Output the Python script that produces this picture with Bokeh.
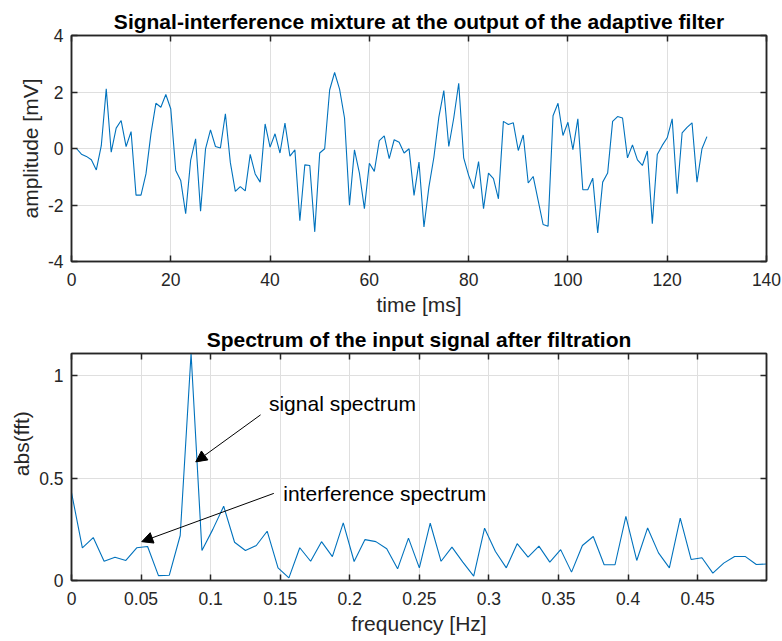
from bokeh.plotting import figure
from bokeh.layouts import column
from bokeh.models import (LinearAxis, FixedTicker, CustomJSTickFormatter, Range1d,
                          Arrow, NormalHead, Label)
from bokeh.embed import file_html
from bokeh.resources import INLINE

# ---------------- data ----------------
time_ms = list(range(129))
amplitude = [0.0, 0.0, -0.2, -0.28, -0.4, -0.76, 0.1, 2.11, -0.13, 0.72,
             0.99, 0.07, 0.6, -1.65, -1.65, -0.9, 0.52, 1.6, 1.46, 1.91,
             1.4, -0.78, -1.13, -2.31, -0.42, 0.34, -2.22, -0.01, 0.66, 0.07,
             0.02, 1.23, -0.5, -1.52, -1.35, -1.5, -0.21, -0.9, -1.19, 0.87,
             0.05, 0.52, -0.16, 0.9, -0.27, -0.05, -2.56, -0.58, -0.6, -2.95,
             -0.16, -0.01, 2.07, 2.69, 2.1, 1.08, -2.01, -0.05, -0.87, -2.13,
             -0.52, -0.81, 0.28, 0.45, -0.36, 0.31, 0.22, -0.16, -0.01, -1.66,
             -0.48, -2.78, -1.36, -0.31, 1.11, 2.05, 0.07, 1.08, 2.31, -0.33,
             -0.95, -1.42, -0.46, -2.13, -0.87, -1.07, -1.78, 0.96, 0.85, 0.91,
             -0.07, 0.48, -1.22, -0.99, -1.84, -2.69, -2.75, 1.16, 1.6, 0.46,
             0.93, -0.04, 1.05, -1.46, -1.46, -1.05, -2.99, -1.19, -0.87, 0.96,
             1.13, 1.08, -0.33, 0.13, -0.4, -0.6, -0.09, -2.66, -0.21, 0.11,
             0.38, 1.05, -1.6, 0.55, 0.75, 0.91, -1.19, -0.01, 0.42]

freq_hz = [k / 128 for k in range(65)]
abs_fft = [0.43, 0.16, 0.21, 0.094, 0.114, 0.098, 0.16, 0.166, 0.024, 0.026,
           0.22, 1.11, 0.147, 0.25, 0.363, 0.187, 0.147, 0.171, 0.241, 0.062,
           0.013, 0.16, 0.094, 0.19, 0.117, 0.282, 0.093, 0.2, 0.19, 0.155,
           0.057, 0.207, 0.062, 0.28, 0.094, 0.163, 0.09, 0.021, 0.256, 0.142,
           0.062, 0.18, 0.114, 0.168, 0.09, 0.151, 0.041, 0.171, 0.215, 0.077,
           0.077, 0.313, 0.098, 0.257, 0.135, 0.062, 0.305, 0.103, 0.111, 0.036,
           0.085, 0.117, 0.117, 0.078, 0.081]

top_xticks = [0, 20, 40, 60, 80, 100, 120, 140]
top_yticks = [-4, -2, 0, 2, 4]
bot_xticks = [0, 0.05, 0.1, 0.15, 0.2, 0.25, 0.3, 0.35, 0.4, 0.45]
bot_yticks = [0, 0.5, 1]

title_top = "Signal-interference mixture at the output of the adaptive filter"
title_bot = "Spectrum of the input signal after filtration"
xlabel_top = "time [ms]"
ylabel_top = "amplitude [mV]"
xlabel_bot = "frequency [Hz]"
ylabel_bot = "abs(fft)"

sig_label = "signal spectrum"
sig_arrow = (0.1359, 0.810, 0.0893, 0.580)
sig_text = (0.1419, 0.865)
int_label = "interference spectrum"
int_arrow = (0.1454, 0.426, 0.0505, 0.190)
int_text = (0.1522, 0.423)

# ---------------- style ----------------
FONT = "Liberation Sans"
AX = "#262626"
LINE = "#0072BD"
TICK_FS = "17.5px"
LABEL_FS = "21px"
TITLE_FS = "21px"

fmt = CustomJSTickFormatter(code="return Number(tick.toFixed(2)).toString();")
blank = CustomJSTickFormatter(code="return '';")


def style(p, xt, yt, xlabel, ylabel, title_standoff):
    p.title.text_font = FONT
    p.title.text_font_size = TITLE_FS
    p.title.text_font_style = "bold"
    p.title.text_color = "black"
    p.title.align = "center"
    p.title.standoff = title_standoff
    p.outline_line_color = AX
    p.outline_line_width = 1.5
    p.grid.grid_line_color = "#dfdfdf"
    p.grid.grid_line_width = 1
    p.xgrid.ticker = FixedTicker(ticks=xt)
    p.ygrid.ticker = FixedTicker(ticks=yt)
    for ax, t in ((p.xaxis[0], xt), (p.yaxis[0], yt)):
        ax.ticker = FixedTicker(ticks=t)
        ax.formatter = fmt
        ax.major_label_text_font = FONT
        ax.major_label_text_font_size = TICK_FS
        ax.major_label_text_color = AX
        ax.axis_label_text_font = FONT
        ax.axis_label_text_font_size = LABEL_FS
        ax.axis_label_text_font_style = "normal"
        ax.axis_label_text_color = AX
        ax.major_tick_in = 6
        ax.major_tick_out = 0
        ax.major_tick_line_color = AX
        ax.major_tick_line_width = 1.5
        ax.minor_tick_line_color = None
        ax.axis_line_color = AX
        ax.axis_line_width = 1.5
    p.xaxis[0].axis_label = xlabel
    p.yaxis[0].axis_label = ylabel
    p.xaxis[0].major_label_standoff = 11
    p.yaxis[0].major_label_standoff = 8
    p.xaxis[0].axis_label_standoff = 4
    p.yaxis[0].axis_label_standoff = 3
    for loc, t in (("above", xt), ("right", yt)):
        a = LinearAxis(ticker=FixedTicker(ticks=t), formatter=blank,
                       major_label_standoff=0, major_tick_in=6, major_tick_out=0,
                       major_tick_line_color=AX, major_tick_line_width=1.5,
                       minor_tick_line_color=None, axis_line_color=AX,
                       axis_line_width=1.5)
        p.add_layout(a, loc)


p1 = figure(width=782, height=322, output_backend="svg", toolbar_location=None,
            x_range=Range1d(0, 140), y_range=Range1d(-4, 4), title=title_top,
            min_border_left=71, min_border_right=16, min_border_top=35,
            min_border_bottom=61)
style(p1, top_xticks, top_yticks, xlabel_top, ylabel_top, 6)
p1.line(time_ms, amplitude, line_color=LINE, line_width=1.1)

p2 = figure(width=782, height=319, output_backend="svg", toolbar_location=None,
            x_range=Range1d(0, 0.4995), y_range=Range1d(0, 1.11), title=title_bot,
            min_border_left=71, min_border_right=16, min_border_top=31,
            min_border_bottom=61)
# leading no-break spaces lift the rotated label above the axis centre, as in the reference
style(p2, bot_xticks, bot_yticks, xlabel_bot, "\u00a0" * 8 + ylabel_bot, 5)
p2.line(freq_hz, abs_fft, line_color=LINE, line_width=1.1)

for (xs, ys, xe, ye) in (sig_arrow, int_arrow):
    p2.add_layout(Arrow(end=NormalHead(size=11, fill_color="black", line_color="black"),
                        x_start=xs, y_start=ys, x_end=xe, y_end=ye,
                        line_color="black", line_width=1))
for txt, (tx, ty) in ((sig_label, sig_text), (int_label, int_text)):
    p2.add_layout(Label(x=tx, y=ty, text=txt, text_font=FONT, text_font_size="21px",
                        text_color="black", text_baseline="middle", text_align="left"))

layout = column(p1, p2)
open("out.html", "w").write(file_html(layout, INLINE))
